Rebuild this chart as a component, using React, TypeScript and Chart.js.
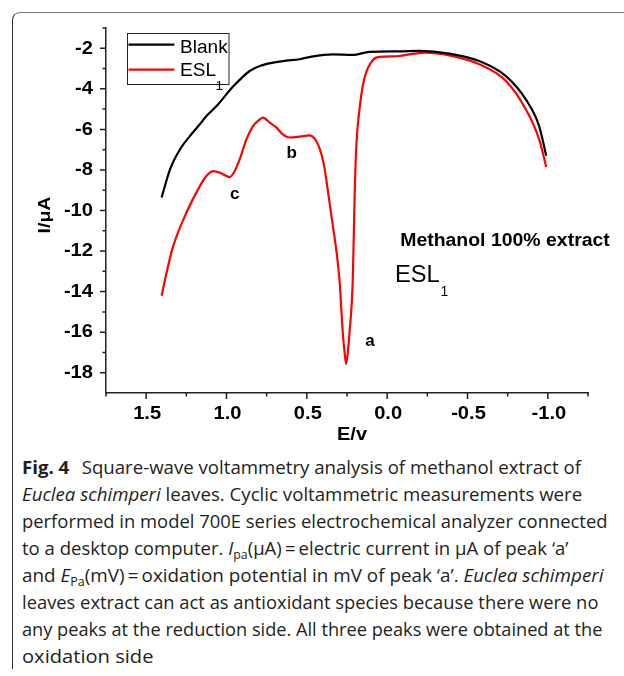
import React, { useEffect, useLayoutEffect, useRef, useState } from "react";
import { Chart, registerables } from "chart.js";

Chart.register(...registerables);

// Square-wave voltammograms: potential E (V) vs current I (µA)
const blankE = [1.404, 1.352, 1.29, 1.228, 1.166, 1.125, 1.062, 0.959, 0.856, 0.793, 0.649, 0.545, 0.47, 0.338, 0.216, 0.11, -0.076, -0.2, -0.387, -0.573, -0.739, -0.863, -0.946, -0.99];
const blankI = [-9.36, -7.98, -6.99, -6.33, -5.75, -5.34, -4.85, -3.89, -3.12, -2.87, -2.63, -2.54, -2.41, -2.3, -2.33, -2.18, -2.15, -2.13, -2.26, -2.63, -3.37, -4.52, -5.84, -7.3];

const eslE = [1.404, 1.368, 1.332, 1.249, 1.166, 1.125, 1.083, 1.04, 0.98, 0.955, 0.918, 0.876, 0.835, 0.793, 0.773, 0.731, 0.69, 0.649, 0.607, 0.545, 0.483, 0.452, 0.43, 0.41, 0.39, 0.379, 0.344, 0.317, 0.297, 0.276, 0.265, 0.255, 0.245, 0.234, 0.214, 0.203, 0.193, 0.172, 0.152, 0.131, 0.1, 0.069, 0.007, -0.076, -0.138, -0.242, -0.387, -0.573, -0.739, -0.863, -0.946, -0.99];
const eslI = [-14.2, -12.9, -11.76, -10.1, -8.8, -8.3, -8.06, -8.14, -8.35, -8.14, -7.48, -6.49, -5.84, -5.51, -5.42, -5.67, -5.9, -6.25, -6.4, -6.36, -6.3, -6.45, -6.75, -7.2, -7.9, -8.47, -10.44, -11.93, -13.4, -16.04, -17.0, -17.56, -17.0, -16.0, -13.4, -9.46, -6.99, -5.0, -3.86, -3.2, -2.7, -2.46, -2.41, -2.38, -2.3, -2.21, -2.35, -2.79, -3.61, -5.01, -6.49, -7.85];

// Axis ticks
const xMajorTicks = [1.5, 1.0, 0.5, 0.0, -0.5, -1.0];
const xMinorTicks = [1.75, 1.25, 0.75, 0.25, -0.25, -0.75, -1.25];
const yMajorTicks = [-2, -4, -6, -8, -10, -12, -14, -16, -18];
const yMinorTicks = [-1, -3, -5, -7, -9, -11, -13, -15, -17];

// Peak markers
const peakNames = ["a", "b", "c"];
const peakE = [0.107, 0.595, 0.949];
const peakI = [-16.44, -7.19, -9.21];

const SANS = '"Liberation Sans", Arial, sans-serif';

function drawText(
  ctx: CanvasRenderingContext2D,
  text: string,
  x: number,
  y: number,
  font: string,
  sx = 1,
  align: CanvasTextAlign = "center",
  baseline: CanvasTextBaseline = "middle",
  rot = 0
) {
  ctx.save();
  ctx.translate(x, y);
  if (rot) ctx.rotate(rot);
  ctx.scale(sx, 1);
  ctx.font = font;
  ctx.fillStyle = "#000";
  ctx.textAlign = align;
  ctx.textBaseline = baseline;
  ctx.fillText(text, 0, 0);
  ctx.restore();
}

const decorations = {
  id: "decorations",
  afterDraw(chart: any) {
    const ctx: CanvasRenderingContext2D = chart.ctx;
    const area = chart.chartArea;
    const xs = chart.scales.x;
    const ys = chart.scales.y;

    // tick marks
    ctx.save();
    ctx.strokeStyle = "#222";
    ctx.lineWidth = 1.5;
    ctx.beginPath();
    yMajorTicks.forEach((v) => {
      const p = ys.getPixelForValue(v);
      ctx.moveTo(area.left - 6, p);
      ctx.lineTo(area.left, p);
    });
    yMinorTicks.forEach((v) => {
      const p = ys.getPixelForValue(v);
      ctx.moveTo(area.left - 3.5, p);
      ctx.lineTo(area.left, p);
    });
    xMajorTicks.forEach((v) => {
      const p = xs.getPixelForValue(v);
      ctx.moveTo(p, area.bottom);
      ctx.lineTo(p, area.bottom + 6);
    });
    xMinorTicks.forEach((v) => {
      const p = xs.getPixelForValue(v);
      ctx.moveTo(p, area.bottom);
      ctx.lineTo(p, area.bottom + 3.5);
    });
    ctx.stroke();
    ctx.restore();

    // tick labels
    const tickFont = `bold 17.5px ${SANS}`;
    yMajorTicks.forEach((v) => {
      drawText(ctx, String(v), area.left - 13, ys.getPixelForValue(v) + 0.5, tickFont, 1.15, "right");
    });
    xMajorTicks.forEach((v) => {
      drawText(ctx, v.toFixed(1), xs.getPixelForValue(v) + 1, area.bottom + 21.5, tickFont, 1.15, "center");
    });

    // axis titles
    drawText(ctx, "E/v", (area.left + area.right) / 2 + 5, area.bottom + 42, `bold 18.5px ${SANS}`, 1.08);
    drawText(ctx, "I/\u03bcA", 45.5, 215, `bold 17px ${SANS}`, 1.15, "center", "middle", -Math.PI / 2);

    // peak labels
    peakNames.forEach((n, i) => {
      drawText(ctx, n, xs.getPixelForValue(peakE[i]), ys.getPixelForValue(peakI[i]), `bold 17px ${SANS}`);
    });

    // sample annotation
    drawText(ctx, "Methanol 100% extract", 505, 241.5, `bold 18px ${SANS}`, 1.08);
    drawText(ctx, "ESL", 395, 282, `23px ${SANS}`, 1.03, "left", "alphabetic");
    drawText(ctx, "1", 440.5, 295.5, `14px ${SANS}`, 1, "left", "alphabetic");

    // legend
    ctx.save();
    ctx.strokeStyle = "#222";
    ctx.lineWidth = 1;
    ctx.strokeRect(127.5, 33.5, 101.5, 51);
    ctx.lineWidth = 2.2;
    ctx.strokeStyle = "#000";
    ctx.beginPath();
    ctx.moveTo(128.5, 44.7);
    ctx.lineTo(174.3, 44.7);
    ctx.stroke();
    ctx.strokeStyle = "#ff0000";
    ctx.beginPath();
    ctx.moveTo(128.5, 69.7);
    ctx.lineTo(174.3, 69.7);
    ctx.stroke();
    ctx.restore();
    drawText(ctx, "Blank", 180, 53, `18.5px ${SANS}`, 1.03, "left", "alphabetic");
    drawText(ctx, "ESL", 180, 76.3, `18.5px ${SANS}`, 1.03, "left", "alphabetic");
    drawText(ctx, "1", 215.5, 90, `13.5px ${SANS}`, 1, "left", "alphabetic");
  },
};

function VoltammetryChart() {
  const ref = useRef<HTMLCanvasElement>(null);
  useEffect(() => {
    if (!ref.current) return;
    const toPoints = (xs: number[], ys: number[]) => xs.map((x, i) => ({ x, y: ys[i] }));
    const chart = new Chart(ref.current, {
      type: "scatter",
      data: {
        datasets: [
          {
            label: "Blank",
            data: toPoints(blankE, blankI),
            borderColor: "#000000",
            borderWidth: 2.2,
            showLine: true,
            pointRadius: 0,
            cubicInterpolationMode: "monotone",
          },
          {
            label: "ESL1",
            data: toPoints(eslE, eslI),
            borderColor: "#ff0000",
            borderWidth: 2.2,
            showLine: true,
            pointRadius: 0,
            cubicInterpolationMode: "monotone",
          },
        ],
      },
      options: {
        responsive: false,
        animation: false,
        layout: { padding: { left: 0, right: 36, top: 28, bottom: 0 } },
        plugins: { legend: { display: false }, tooltip: { enabled: false } },
        scales: {
          x: {
            type: "linear",
            reverse: true,
            min: -1.25,
            max: 1.75,
            grid: { display: false },
            border: { display: true, color: "#222", width: 1.5 },
            ticks: { display: false },
            afterFit: (s: any) => {
              s.height = 57;
            },
          },
          y: {
            type: "linear",
            min: -19,
            max: -1,
            grid: { display: false },
            border: { display: true, color: "#222", width: 1.5 },
            ticks: { display: false },
            afterFit: (s: any) => {
              s.width = 106;
            },
          },
        },
      },
      plugins: [decorations],
    } as any);
    return () => chart.destroy();
  }, []);
  return <canvas ref={ref} width={624} height={450} style={{ position: "absolute", left: 0, top: 0, width: 624, height: 450 }} />;
}

const sub: React.CSSProperties = { fontSize: 12, verticalAlign: -4, lineHeight: 0 };
const q = (s: string) => `\u2018${s}\u2019`;

// Caption lines, each squeezed to its own measure
const captionLines: React.ReactNode[] = [
  <>
    <b>Fig. 4</b>
    {"\u2002\u2009"}Square-wave voltammetry analysis of methanol extract of
  </>,
  <>
    <i>Euclea schimperi</i> leaves. Cyclic voltammetric measurements were
  </>,
  <>performed in model 700E series electrochemical analyzer connected</>,
  <>
    to a desktop computer. <i>I</i>
    <span style={sub}>pa</span>({"\u00b5"}A){"\u2009=\u2009"}electric current in {"\u00b5"}A of peak {q("a")}
  </>,
  <>
    and <i>E</i>
    <span style={sub}>Pa</span>(mV){"\u2009=\u2009"}oxidation potential in mV of peak {q("a")}. <i>Euclea schimperi</i>
  </>,
  <>leaves extract can act as antioxidant species because there were no</>,
  <>any peaks at the reduction side. All three peaks were obtained at the</>,
  <>oxidation side</>,
];
const captionWidths = [559, 560, 586, 546, 582, 576, 580, 132];

function Caption() {
  const refs = useRef<(HTMLSpanElement | null)[]>([]);
  const [scales, setScales] = useState<number[]>(captionLines.map(() => 0.88));
  useLayoutEffect(() => {
    const fit = () => {
      setScales(
        captionLines.map((_, i) => {
          const el = refs.current[i];
          return el && el.offsetWidth > 0 ? captionWidths[i] / el.offsetWidth : 0.88;
        })
      );
    };
    fit();
    (document as any).fonts?.ready?.then(fit);
  }, []);
  return (
    <div
      style={{
        position: "absolute",
        left: 22,
        top: 454,
        fontFamily: '"Open Sans", "Noto Sans", sans-serif',
        fontSize: 18,
        lineHeight: "27px",
        color: "#231f20",
        whiteSpace: "nowrap",
      }}
    >
      {captionLines.map((line, i) => (
        <div key={i} style={{ height: 27 }}>
          <span
            ref={(el) => {
              refs.current[i] = el;
            }}
            style={{ display: "inline-block", transformOrigin: "0 0", transform: `scaleX(${scales[i]})` }}
          >
            {line}
          </span>
        </div>
      ))}
    </div>
  );
}

export default function App() {
  return (
    <div style={{ position: "absolute", left: 0, top: 0, width: 624, height: 676, background: "#fff", overflow: "hidden" }}>
      <div
        style={{
          position: "absolute",
          left: 12,
          top: 12,
          width: 700,
          height: 656,
          borderTop: "1px solid #777",
          borderLeft: "1px solid #333",
          borderTopLeftRadius: 8,
        }}
      />
      <VoltammetryChart />
      <Caption />
    </div>
  );
}
